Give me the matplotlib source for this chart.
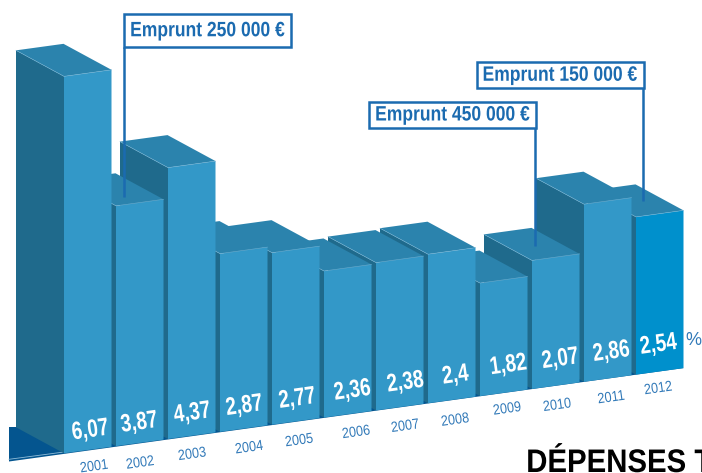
import matplotlib
matplotlib.use("Agg")
import matplotlib.pyplot as plt
from matplotlib.patches import Polygon, Rectangle
from matplotlib.patheffects import AbstractPathEffect
from matplotlib.transforms import Affine2D

years = ["2001", "2002", "2003", "2004", "2005", "2006", "2007", "2008", "2009", "2010", "2011", "2012"]
rates = [6.07, 3.87, 4.37, 2.87, 2.77, 2.36, 2.38, 2.4, 1.82, 2.07, 2.86, 2.54]
rate_labels = ["6,07", "3,87", "4,37", "2,87", "2,77", "2,36", "2,38", "2,4", "1,82", "2,07", "2,86", "2,54"]

# hand placed label nudges, the original labels are not regular
year_dx = [6.5, 0.5, 0.5, 5.5, 3.5, 8.5, 5.5, 3.5, 3.5, 1.5, 3.5, -1.5]
year_dy = [16.5, 20, 18.5, 19, 19, 18, 19, 20, 16, 19.5, 19, 17]
rate_dx = [2.5, -0.5, 0.5, 0.5, 1.5, 4.5, 5.5, 3.5, 4.5, 4.5, 3.5, -1.5]
rate_dy = [20, 20.5, 23, 23, 23, 24, 25, 25, 28, 27, 27, 27]

# fake 3d set up, in pixels
X0, Y0 = 64, 453.3
STEP = 52
W = 47.5
SLOPE = 0.1375
DX, DY = -48, -26
PX_PER_UNIT = 62.1

FRONT = "#3398c8"
FRONT_LAST = "#0090cc"
SIDE = "#1f6a8c"
TOP = "#2b83ad"
EDGE = "#6fb0d2"
FLOOR = "#04558f"
BLUE = "#1b6bb0"
YEAR_BLUE = "#3179b8"


class Squeeze(AbstractPathEffect):
    # no condensed font here, so narrow the glyphs along the text direction
    def __init__(self, sx, anchor="center"):
        super().__init__()
        self.sx = sx
        self.anchor = anchor

    def draw_path(self, renderer, gc, tpath, affine, rgbFace=None):
        ext = tpath.get_extents()
        c = (ext.x0 + ext.x1) / 2 if self.anchor == "center" else ext.x0
        squeezed = Affine2D().translate(-c, 0).scale(self.sx, 1).translate(c, 0) + affine
        renderer.draw_path(gc, tpath, squeezed, rgbFace)


plt.rcParams["font.family"] = ["Liberation Sans", "DejaVu Sans"]

fig = plt.figure(figsize=(7.02, 4.73), dpi=100)
ax = fig.add_axes([0, 0, 1, 1])
ax.set_xlim(0, 702)
ax.set_ylim(473, 0)
ax.axis("off")


def base_y(x):
    return Y0 - (x - X0) * SLOPE


# floor under the bars
right = X0 + STEP * (len(years) - 1) + W
ax.add_patch(Polygon([(9, 461.5), (right, base_y(right)), (right + DX, base_y(right) + DY),
                      (16, 427), (9, 427)], closed=True, fc=FLOOR, ec="none", zorder=1))
ax.plot([9, 64], [459.3, 452], color="#8fbcd8", lw=0.6, zorder=1.5)

# right to left so the nearer bars paint over the others
for i in range(len(years) - 1, -1, -1):
    x = X0 + STEP * i
    h = rates[i] * PX_PER_UNIT
    yl = base_y(x)
    yr = base_y(x + W)
    z = 2 + (len(years) - i) * 0.1
    side = [(x, yl), (x, yl - h), (x + DX, yl - h + DY), (x + DX, yl + DY)]
    top = [(x, yl - h), (x + W, yr - h), (x + W + DX, yr - h + DY), (x + DX, yl - h + DY)]
    front = [(x, yl), (x + W, yr), (x + W, yr - h), (x, yl - h)]
    color = FRONT_LAST if i == len(years) - 1 else FRONT
    ax.add_patch(Polygon(side, closed=True, fc=SIDE, ec="none", zorder=z))
    ax.add_patch(Polygon(top, closed=True, fc=TOP, ec="none", zorder=z))
    ax.add_patch(Polygon(front, closed=True, fc=color, ec="none", zorder=z))
    ax.plot([x + DX, x, x + W], [yl - h + DY, yl - h, yr - h], color=EDGE, lw=0.4, zorder=z)

ANGLE = 8
for i, year in enumerate(years):
    cx = X0 + STEP * i + W / 2
    cy = base_y(cx)
    ax.text(cx + year_dx[i], cy + year_dy[i], year, color=YEAR_BLUE, fontsize=10.5, rotation=ANGLE,
            rotation_mode="anchor", ha="center", va="center", zorder=5, path_effects=[Squeeze(0.87)])
    ax.text(cx + rate_dx[i], cy - rate_dy[i], rate_labels[i], color="white", fontsize=18,
            fontweight="bold", rotation=ANGLE, rotation_mode="anchor", ha="center", va="center",
            zorder=5, path_effects=[Squeeze(0.76)])

ax.text(685, 340, "%", color=YEAR_BLUE, fontsize=13, ha="left", va="center", zorder=5)


def callout(label, x0, y0, x1, y1, line_x, line_end):
    ax.plot([line_x, line_x], [y1, line_end], color=BLUE, lw=1.8, zorder=6, solid_capstyle="butt")
    ax.add_patch(Rectangle((x0, y0), x1 - x0, y1 - y0, fc="white", ec=BLUE, lw=1.8, zorder=7))
    ax.text((x0 + x1) / 2, (y0 + y1) / 2, label, color=BLUE, fontsize=15, fontweight="bold",
            ha="center", va="center", zorder=8, path_effects=[Squeeze(0.84)])


callout("Emprunt 250 000 €", 124, 14, 291, 47.5, 124, 197)
callout("Emprunt 450 000 €", 369, 102, 536, 128, 535, 246)
callout("Emprunt 150 000 €", 476.5, 62.5, 643.5, 88, 643, 201)

# heading of the next block, cut by the page edge
ax.text(526, 472, "DÉPENSES T", color="black", fontsize=23.5, fontweight="bold",
        ha="left", va="baseline", zorder=5, clip_on=False, path_effects=[Squeeze(0.9, "left")])

fig.savefig("out.png", dpi=100)
